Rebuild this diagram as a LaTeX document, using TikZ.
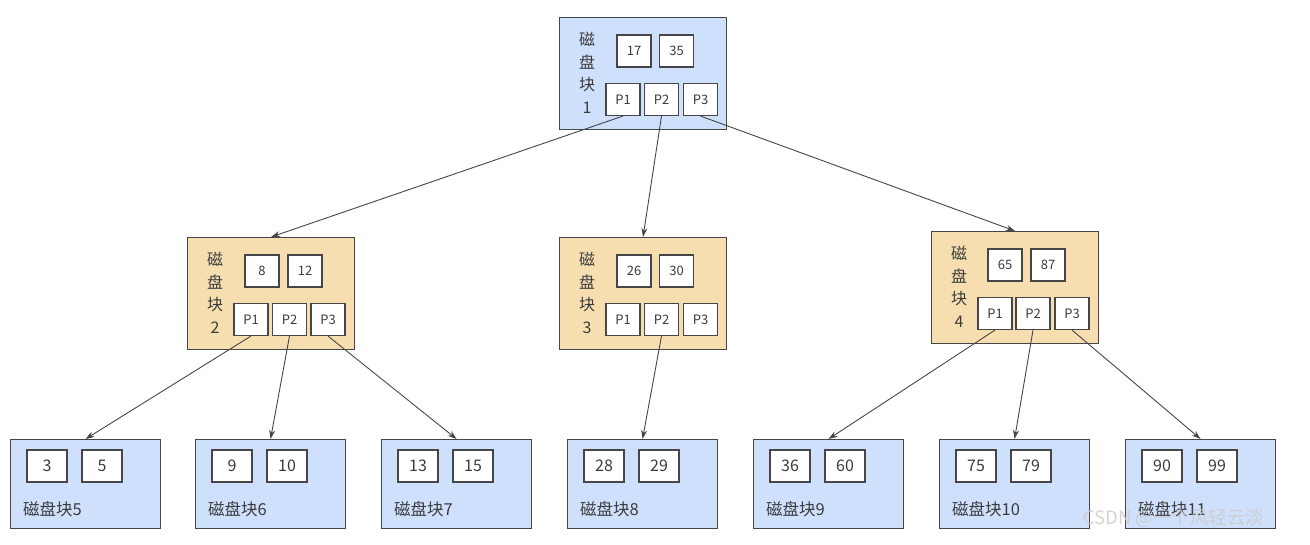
\documentclass[tikz,border=0pt]{standalone}
\usepackage{fontspec}
\setmainfont{Noto Sans CJK SC}
\usetikzlibrary{arrows.meta}
\definecolor{blockblue}{RGB}{206,224,252}
\definecolor{blocktan}{RGB}{246,222,176}
\definecolor{edgegray}{RGB}{70,70,70}
\definecolor{textgray}{RGB}{60,60,60}

\begin{document}
\begin{tikzpicture}[x=1pt,y=-1pt,
  block/.style={draw=edgegray,line width=1.1pt,inner sep=0pt,anchor=north west},
  keybox/.style={draw=edgegray,line width=1.1pt,fill=white,inner sep=0pt,text=textgray,
    minimum width=34pt,minimum height=32pt,font=\fontsize{13}{13}\selectfont},
  leafkey/.style={keybox,minimum width=40pt,font=\fontsize{16}{16}\selectfont},
  vlabel/.style={text=textgray,align=center,inner sep=0pt,font=\fontsize{16}{22.5}\selectfont},
  link/.style={draw=edgegray,line width=0.9pt,-{Stealth[length=9pt,width=6pt]}}]
\useasboundingbox (0,0) rectangle (1310,544);

%Block 1
\node[block,fill=blockblue,minimum width=167pt,minimum height=112pt] (blk1) at (559,17) {};
\node[vlabel] (lab1) at (587,73) {磁\\盘\\块\\1};
\node[keybox] (b1k1) at (634,51) {17};
\node[keybox] (b1k2) at (676.5,51) {35};
\node[keybox] (b1p1) at (623,99.5) {P1};
\node[keybox] (b1p2) at (661.5,99.5) {P2};
\node[keybox] (b1p3) at (700.5,99.5) {P3};

%Block 2
\node[block,fill=blocktan,minimum width=167pt,minimum height=112pt] (blk2) at (187,237) {};
\node[vlabel] (lab2) at (215,293) {磁\\盘\\块\\2};
\node[keybox] (b2k1) at (262,271) {8};
\node[keybox] (b2k2) at (305,271) {12};
\node[keybox] (b2p1) at (251,319.5) {P1};
\node[keybox] (b2p2) at (289.5,319.5) {P2};
\node[keybox] (b2p3) at (328,319.5) {P3};

%Block 3
\node[block,fill=blocktan,minimum width=167pt,minimum height=112pt] (blk3) at (559,237) {};
\node[vlabel] (lab3) at (587,293) {磁\\盘\\块\\3};
\node[keybox] (b3k1) at (634,271) {26};
\node[keybox] (b3k2) at (676.5,271) {30};
\node[keybox] (b3p1) at (623,319.5) {P1};
\node[keybox] (b3p2) at (661.5,319.5) {P2};
\node[keybox] (b3p3) at (700.5,319.5) {P3};

%Block 4
\node[block,fill=blocktan,minimum width=167pt,minimum height=112pt] (blk4) at (931,231) {};
\node[vlabel] (lab4) at (959,287) {磁\\盘\\块\\4};
\node[keybox] (b4k1) at (1005,265) {65};
\node[keybox] (b4k2) at (1048,265) {87};
\node[keybox] (b4p1) at (995,313.5) {P1};
\node[keybox] (b4p2) at (1033,313.5) {P2};
\node[keybox] (b4p3) at (1072,313.5) {P3};

%Leaves
\foreach \x/\a/\b/\n in {10/3/5/5,195/9/10/6,381/13/15/7,567/28/29/8,753/36/60/9,939/75/79/10,1125/90/99/11}{
  \node[block,fill=blockblue,minimum width=150pt,minimum height=89pt] (leaf\n) at (\x,439) {};
  \node[leafkey] (leaf\n a) at (\x+37,466) {\a};
  \node[leafkey] (leaf\n b) at (\x+92,466) {\b};
  \node[text=textgray,anchor=west,inner sep=0pt,font=\fontsize{16.5}{16.5}\selectfont] (leaf\n l) at (\x+13,509) {磁盘块\n};
}

%Links
\draw[link] (b1p1.south) -- (blk2.north);
\draw[link] (b1p2.south) -- (blk3.north);
\draw[link] (b1p3.south) -- (blk4.north);
\draw[link] (b2p1.south) -- (leaf5.north);
\draw[link] (b2p2.south) -- (leaf6.north);
\draw[link] (b2p3.south) -- (leaf7.north);
\draw[link] (b3p2.south) -- (leaf8.north);
\draw[link] (b4p1.south) -- (leaf9.north);
\draw[link] (b4p2.south) -- (leaf10.north);
\draw[link] (b4p3.south) -- (leaf11.north);

% Watermark
\node[text=gray!40,opacity=0.85,anchor=west,inner sep=0pt,font=\fontsize{18.5}{18.5}\selectfont] (mark) at (1083,518) {CSDN @一个风轻云淡};

\end{tikzpicture}
\end{document}
